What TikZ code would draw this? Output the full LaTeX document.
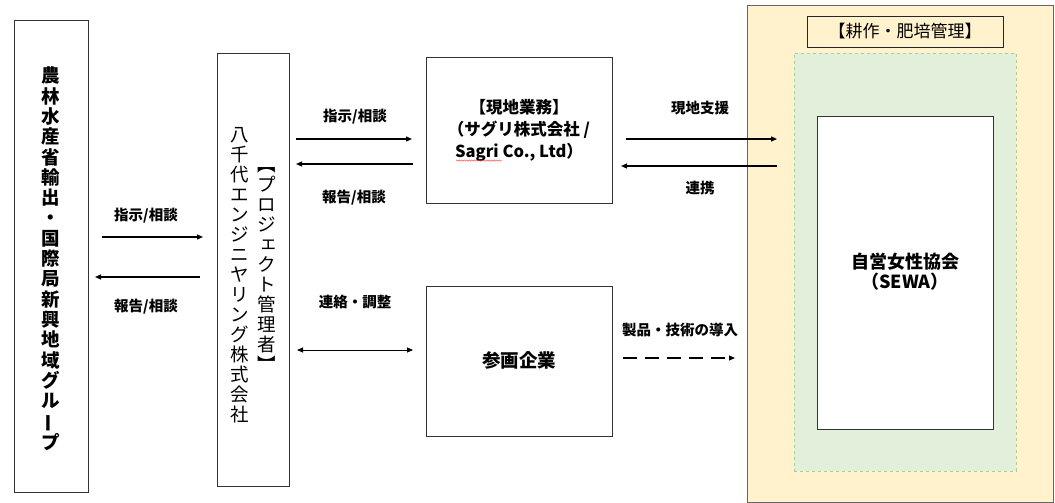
\documentclass[tikz,border=0pt]{standalone}
\usepackage{fontspec}
\setmainfont{Noto Sans CJK JP}
\usetikzlibrary{arrows.meta,decorations.pathmorphing}
\definecolor{outerfill}{HTML}{FFF2CC}
\definecolor{greenfill}{HTML}{E2EFDA}
\definecolor{greendash}{HTML}{A9D08E}
\newcommand{\vlong}{\rotatebox[origin=c]{90}{ー}}
\newcommand{\vsmall}[1]{\makebox[1em][c]{\hspace*{0.18em}\raisebox{0.14em}{#1}}}
\begin{document}
\begin{tikzpicture}[x=1pt,y=-1pt,
  box/.style={draw=black!80, line width=0.8pt, fill=white, inner sep=0pt},
  arr/.style={line width=1.2pt, -{Triangle[length=6pt,width=5pt]}},
  darr/.style={line width=1.2pt, {Triangle[length=6pt,width=5pt]}-{Triangle[length=6pt,width=5pt]}},
  lbl/.style={font=\fontsize{14.5}{16}\selectfont\bfseries, inner sep=0pt},
  btxt/.style={font=\fontsize{16.5}{22}\selectfont\bfseries, align=center, inner sep=0pt}
]
\useasboundingbox (0,0) rectangle (1055,503);
\fill[white] (0,0) rectangle (1055,503);

% right region
\node[draw=black!60, line width=0.8pt, fill=outerfill, minimum width=306pt, minimum height=497pt, inner sep=0pt] (outer) at (900,253.5) {};
\node[draw=black!85, line width=0.8pt, fill=outerfill, minimum width=196pt, minimum height=31pt, inner sep=0pt,
  font=\fontsize{17}{18}\selectfont] (farm) at (905,31.5) {【耕作・肥培管理】};
\node[draw=greendash, dashed, line width=0.8pt, fill=greenfill, minimum width=222pt, minimum height=418pt, inner sep=0pt] (green) at (905,262) {};
\node[box, minimum width=176pt, minimum height=313pt] (sewa) at (905,272.5) {};
\node[font=\fontsize{18}{20}\selectfont\bfseries, align=center, inner sep=0pt] (sewat) at (905,272) {自営女性協会\\（SEWA）};

% left ministry box
\node[box, minimum width=74pt, minimum height=472pt] (maff) at (51,256) {};
\node[font=\fontsize{18.5}{20.3}\selectfont\bfseries, align=center, inner sep=0pt] (mafft) at (51,259)
  {農\\林\\水\\産\\省\\輸\\出\\・\\国\\際\\局\\新\\興\\地\\域\\グ\\ル\\\vlong\\プ};

% project manager box
\node[box, minimum width=72pt, minimum height=433pt] (pm) at (253,269.5) {};
\node[font=\fontsize{18.5}{20}\selectfont, align=center, inner sep=0pt] (pmr) at (267,270)
  {︻\\プ\\ロ\\ジ\\\vsmall{ェ}\\ク\\ト\\管\\理\\者\\︼};
\node[font=\fontsize{18.5}{20}\selectfont, align=center, inner sep=0pt] (pml) at (240,275)
  {八\\千\\代\\エ\\ン\\ジ\\ニ\\ヤ\\リ\\ン\\グ\\株\\式\\会\\社};

% local operations box
\node[box, minimum width=186pt, minimum height=146pt] (local) at (519,130) {};
\node[btxt] (localt) at (519,130) {【現地業務】\\（サグリ株式会社 /\\Sagri Co., Ltd）};
\coordinate (wv1) at (456,160.5);
\coordinate (wv2) at (502,160.5);
\draw[red!80, line width=0.4pt, decorate, decoration={snake, segment length=2.5pt, amplitude=0.7pt}] (wv1) -- (wv2);

% participating companies box
\node[box, minimum width=186pt, minimum height=150pt] (comp) at (519,361) {};
\node[font=\fontsize{18.5}{20}\selectfont\bfseries, inner sep=0pt] (compt) at (519,360) {参画企業};

% arrows ministry <-> PM
\coordinate (a1s) at (102,237); \coordinate (a1e) at (203,237);
\draw[arr] (a1s) -- (a1e);
\node[lbl] (l1) at (146,216) {指示/相談};
\coordinate (a2s) at (200,277); \coordinate (a2e) at (95,277);
\draw[arr] (a2s) -- (a2e);
\node[lbl] (l2) at (146,307) {報告/相談};

% arrows PM <-> local
\coordinate (b1s) at (296,139); \coordinate (b1e) at (412,139);
\draw[arr] (b1s) -- (b1e);
\node[lbl] (l3) at (355,117) {指示/相談};
\coordinate (b2s) at (413,164); \coordinate (b2e) at (296,164);
\draw[arr] (b2s) -- (b2e);
\node[lbl] (l4) at (354,198) {報告/相談};

% PM <-> companies
\coordinate (c1s) at (297,350); \coordinate (c1e) at (413,350);
\draw[darr, line width=0.9pt] (c1s) -- (c1e);
\node[lbl] (l5) at (355,302) {連絡・調整};

% local <-> farm
\coordinate (d1s) at (626,139); \coordinate (d1e) at (777,139);
\draw[arr] (d1s) -- (d1e);
\node[lbl] (l6) at (700,108) {現地支援};
\coordinate (d2s) at (777,166); \coordinate (d2e) at (621,166);
\draw[arr] (d2s) -- (d2e);
\node[lbl] (l7) at (700,188) {連携};

% companies -> farm (dashed)
\coordinate (e1s) at (623,358); \coordinate (e1e) at (735,358);
\draw[arr, dash pattern=on 14pt off 8pt] (e1s) -- (e1e);
\node[lbl] (l8) at (680,330) {製品・技術の導入};
\end{tikzpicture}
\end{document}
